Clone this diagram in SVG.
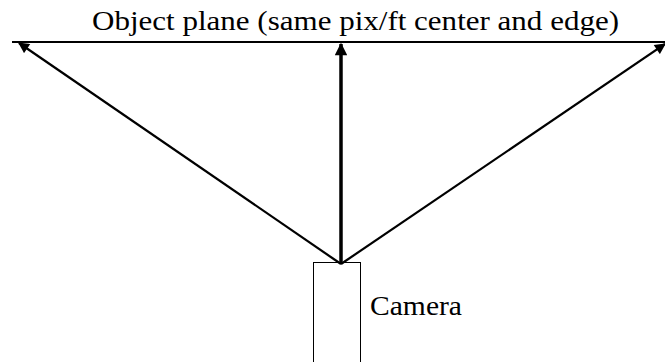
<svg xmlns="http://www.w3.org/2000/svg" width="665" height="362" viewBox="0 0 665 362">
<defs>
<style>
.t{font-family:"Liberation Serif","Times New Roman",serif;font-size:28px;fill:#000}
.c{stroke:#000;fill:none}
</style>
<marker id="ah" viewBox="0 0 10 10" refX="9" refY="5" markerWidth="5.5" markerHeight="5" orient="auto" markerUnits="strokeWidth"><path d="M0,0 L10,5 L0,10 z" fill="#000"/></marker>
<marker id="ah2" viewBox="0 0 10 10" refX="9" refY="5" markerWidth="3.8" markerHeight="3.6" orient="auto" markerUnits="strokeWidth"><path d="M0,0 L10,5 L0,10 z" fill="#000"/></marker>
</defs>
<g id="plane">
<line x1="12" y1="42" x2="665" y2="42" stroke="#000" stroke-width="2"/>
<text class="t" x="92" y="30" textLength="527" lengthAdjust="spacingAndGlyphs">Object plane (same pix/ft center and edge)</text>
</g>
<g id="camera">
<rect x="313.5" y="262.5" width="47" height="110" fill="#fff" stroke="#000" stroke-width="1"/>
<text class="t" x="370" y="315" textLength="92" lengthAdjust="spacingAndGlyphs">Camera</text>
</g>
<g id="connectors">
<line class="c" x1="341" y1="264" x2="19" y2="43" stroke-width="2.2" marker-end="url(#ah)"/>
<line class="c" x1="341" y1="264" x2="665" y2="44" stroke-width="2.2" marker-end="url(#ah)"/>
<line class="c" x1="341" y1="264" x2="341" y2="44" stroke-width="3.5" marker-end="url(#ah2)"/>
</g>
</svg>
